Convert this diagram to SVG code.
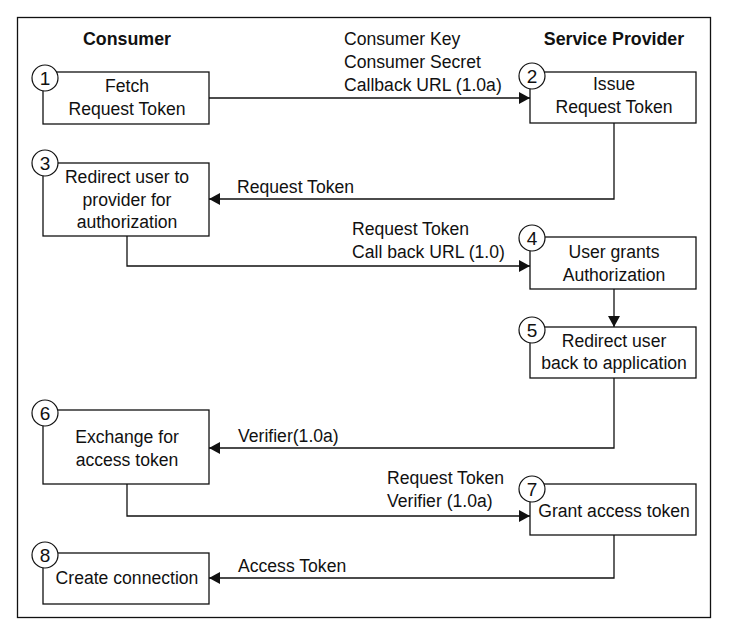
<svg xmlns="http://www.w3.org/2000/svg" width="729" height="637" viewBox="0 0 729 637">
<style>
text{font-family:"Liberation Sans",Arial,sans-serif;font-size:17.6px;fill:#111}
.h{font-weight:bold;font-size:17.8px}
.c{text-anchor:middle}
.n{font-size:19px}
.box{fill:#fff;stroke:#111;stroke-width:1.3}
.num{fill:#fff;stroke:#111;stroke-width:1.2}
.ln{fill:none;stroke:#111;stroke-width:1.3}
</style>
<defs>
<marker id="a" markerWidth="12" markerHeight="12" refX="11" refY="6" orient="auto" markerUnits="userSpaceOnUse">
<path d="M0,0 L11,6 L0,12 Z" fill="#111"/>
</marker>
</defs>
<rect x="0" y="0" width="729" height="637" fill="#fff"/>
<rect x="17.5" y="17.5" width="693" height="600" fill="none" stroke="#111" stroke-width="1.3"/>
<text class="h c" x="127" y="45">Consumer</text>
<text class="h c" x="614" y="45">Service Provider</text>
<g id="connectors">
<path class="ln" d="M209,98 H530" marker-end="url(#a)"/>
<path class="ln" d="M614,123 V199 H209" marker-end="url(#a)"/>
<path class="ln" d="M127,236 V266 H530" marker-end="url(#a)"/>
<path class="ln" d="M614,289 V327" marker-end="url(#a)"/>
<path class="ln" d="M614,378 V448 H209" marker-end="url(#a)"/>
<path class="ln" d="M127,484 V516 H530" marker-end="url(#a)"/>
<path class="ln" d="M614,535 V578 H209" marker-end="url(#a)"/>
<text x="344" y="45">Consumer Key</text>
<text x="344" y="68">Consumer Secret</text>
<text x="344" y="91">Callback URL (1.0a)</text>
<text x="237" y="193">Request Token</text>
<text x="352" y="235">Request Token</text>
<text x="352" y="258">Call back URL (1.0)</text>
<text x="238" y="442">Verifier(1.0a)</text>
<text x="387" y="484">Request Token</text>
<text x="387" y="507">Verifier (1.0a)</text>
<text x="238" y="572">Access Token</text>
</g>
<g id="n1">
<rect class="box" x="43" y="72" width="166" height="52"/>
<circle class="num" cx="45" cy="78" r="13"/>
<text class="c n" x="45" y="85">1</text>
<text class="c" x="127" y="92">Fetch</text>
<text class="c" x="127" y="115">Request Token</text>
</g>
<g id="n2">
<rect class="box" x="530" y="72" width="166" height="51"/>
<circle class="num" cx="532" cy="76" r="13"/>
<text class="c n" x="532" y="83">2</text>
<text class="c" x="614" y="90">Issue</text>
<text class="c" x="614" y="113">Request Token</text>
</g>
<g id="n3">
<rect class="box" x="43" y="163" width="166" height="73"/>
<circle class="num" cx="45" cy="163" r="13"/>
<text class="c n" x="45" y="170">3</text>
<text class="c" x="127" y="183">Redirect user to</text>
<text class="c" x="127" y="206">provider for</text>
<text class="c" x="127" y="228">authorization</text>
</g>
<g id="n4">
<rect class="box" x="530" y="237" width="166" height="52"/>
<circle class="num" cx="532" cy="238" r="13"/>
<text class="c n" x="532" y="245">4</text>
<text class="c" x="614" y="258">User grants</text>
<text class="c" x="614" y="281">Authorization</text>
</g>
<g id="n5">
<rect class="box" x="530" y="327" width="166" height="51"/>
<circle class="num" cx="532" cy="330" r="13"/>
<text class="c n" x="532" y="337">5</text>
<text class="c" x="614" y="347">Redirect user</text>
<text class="c" x="614" y="369">back to application</text>
</g>
<g id="n6">
<rect class="box" x="43" y="410" width="166" height="74"/>
<circle class="num" cx="45" cy="413" r="13"/>
<text class="c n" x="45" y="420">6</text>
<text class="c" x="127" y="443">Exchange for</text>
<text class="c" x="127" y="466">access token</text>
</g>
<g id="n7">
<rect class="box" x="530" y="484" width="166" height="51"/>
<circle class="num" cx="532" cy="489" r="13"/>
<text class="c n" x="532" y="496">7</text>
<text class="c" x="614" y="517">Grant access token</text>
</g>
<g id="n8">
<rect class="box" x="43" y="553" width="166" height="51"/>
<circle class="num" cx="45" cy="555" r="13"/>
<text class="c n" x="45" y="562">8</text>
<text class="c" x="127" y="584">Create connection</text>
</g>
</svg>
